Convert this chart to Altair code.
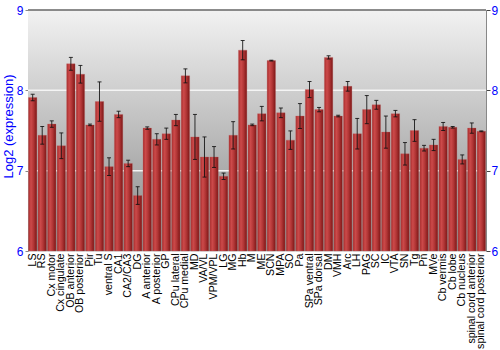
import altair as alt
import pandas as pd

regions = ["LS", "RS", "Cx motor", "Cx cingulate", "OB anterior", "OB posterior", "Pir", "Tu",
           "ventral S", "CA1", "CA2/CA3", "DG", "A anterior", "A posterior", "GP", "CPu lateral",
           "CPu medial", "MD", "VA/VL", "VPM/VPL", "LG", "MG", "Hb", "M", "ME", "SCN", "MPA",
           "SO", "Pa", "SPa ventral", "SPa dorsal", "DM", "VMH", "Arc", "LH", "PAG", "SC", "IC",
           "VTA", "SN", "Tg", "Pn", "MVe", "Cb vermis", "Cb lobe", "Cb nucleus",
           "spinal cord anterior", "spinal cord posterior"]
expression = [7.91, 7.44, 7.58, 7.31, 8.33, 8.20, 7.57, 7.86,
              7.05, 7.70, 7.09, 6.69, 7.53, 7.39, 7.46, 7.63,
              8.18, 7.42, 7.17, 7.17, 6.93, 7.44, 8.50, 7.57, 7.71, 8.37, 7.72,
              7.38, 7.68, 8.01, 7.76, 8.41, 7.68, 8.05, 7.46, 7.76, 7.82, 7.48,
              7.71, 7.21, 7.50, 7.28, 7.32, 7.55, 7.54, 7.14,
              7.53, 7.49]
error = [0.04, 0.11, 0.04, 0.16, 0.08, 0.11, 0.01, 0.245,
         0.11, 0.04, 0.04, 0.11, 0.015, 0.07, 0.07, 0.07,
         0.087, 0.28, 0.25, 0.13, 0.04, 0.17, 0.12, 0.01, 0.09, 0.005, 0.06,
         0.115, 0.155, 0.10, 0.027, 0.02, 0.01, 0.06, 0.19, 0.175, 0.055, 0.2,
         0.04, 0.14, 0.135, 0.035, 0.07, 0.05, 0.01, 0.056,
         0.064, 0.005]

df = pd.DataFrame({"region": regions, "value": expression, "err": error})
df["lo"] = df["value"] - df["err"]
df["hi"] = df["value"] + df["err"]

W, H = 458, 241
blue = "#0000ff"
yscale = alt.Scale(domain=[6, 9], zero=False, nice=False)
xenc = alt.X("region:N", sort=regions,
             scale=alt.Scale(paddingInner=0.12, paddingOuter=0.05),
             axis=alt.Axis(title=None, labelAngle=-90, labelFontSize=10.6,
                           labelFont="Liberation Sans", labelColor="black",
                           ticks=False, domain=False, labelPadding=2,
                           labelAlign="right", labelBaseline="middle"))
xplain = alt.X("region:N", sort=regions)

bg = alt.Chart(pd.DataFrame({"a": [0]})).mark_rect(
    color=alt.Gradient(gradient="linear",
                       stops=[alt.GradientStop(color="#f2f2f2", offset=0),
                              alt.GradientStop(color="#888888", offset=1)],
                       x1=0, x2=0, y1=0, y2=1)
).encode(x=alt.value(0), x2=alt.value(W), y=alt.value(0), y2=alt.value(H))

grid = alt.Chart(pd.DataFrame({"g": [7, 8]})).mark_rule(color="#f4f4f4", strokeWidth=1.5).encode(
    y=alt.Y("g:Q", scale=yscale, axis=None))

bars = alt.Chart(df).mark_bar(
    color=alt.Gradient(gradient="linear",
                       stops=[alt.GradientStop(color="#a82c2c", offset=0),
                              alt.GradientStop(color="#cc4a4a", offset=0.3),
                              alt.GradientStop(color="#b23636", offset=0.6),
                              alt.GradientStop(color="#7c1616", offset=1)],
                       x1=0, x2=1, y1=0, y2=0),
    stroke="#c06060", strokeWidth=0.5, strokeOpacity=0.6
).encode(
    x=xenc,
    y=alt.Y("value:Q", scale=yscale,
            axis=alt.Axis(title="Log2 (expression)", values=[6, 7, 8, 9], labelColor=blue,
                          labelFontSize=12, labelFont="Liberation Sans", titleColor=blue,
                          titleFont="Liberation Sans", titleFontSize=13, titleFontWeight="normal",
                          titleX=-13, titleY=116, titleAngle=270, titleBaseline="bottom",
                          grid=False, domainColor="#888888", tickColor="#888888",
                          tickSize=3, labelPadding=2)),
    y2=alt.datum(6)
)

rules = alt.Chart(df).mark_rule(color="#111111", strokeWidth=1, opacity=0.85).encode(
    x=xplain, y=alt.Y("lo:Q", scale=yscale, axis=None), y2="hi:Q")
caps_lo = alt.Chart(df).mark_tick(color="#111111", thickness=1, size=4, opacity=0.85).encode(
    x=xplain, y=alt.Y("lo:Q", scale=yscale, axis=None))
caps_hi = alt.Chart(df).mark_tick(color="#111111", thickness=1, size=4, opacity=0.85).encode(
    x=xplain, y=alt.Y("hi:Q", scale=yscale, axis=None))

right_axis = alt.Chart(df).mark_point(opacity=0).encode(
    x=xplain,
    y=alt.Y("value:Q", scale=yscale,
            axis=alt.Axis(orient="right", title=None, values=[6, 7, 8, 9], labelColor=blue,
                          labelFontSize=12, labelFont="Liberation Sans", grid=False,
                          domainColor="#888888", tickColor="#444444", tickSize=4,
                          labelPadding=1)))

topline = alt.Chart(pd.DataFrame({"a": [0]})).mark_rule(color="#666666", strokeWidth=1.5).encode(
    x=alt.value(0), x2=alt.value(W), y=alt.value(0))

chart = alt.layer(bg, grid, bars, rules, caps_lo, caps_hi, right_axis, topline).resolve_axis(
    y="independent"
).properties(
    width=W, height=H,
    autosize=alt.AutoSizeParams(type="none"),
    padding={"left": 28, "top": 10, "right": 14, "bottom": 99}
).configure_view(stroke=None).configure(background="white")

chart.save("out.html", embed_options={"renderer": "svg", "actions": False})
